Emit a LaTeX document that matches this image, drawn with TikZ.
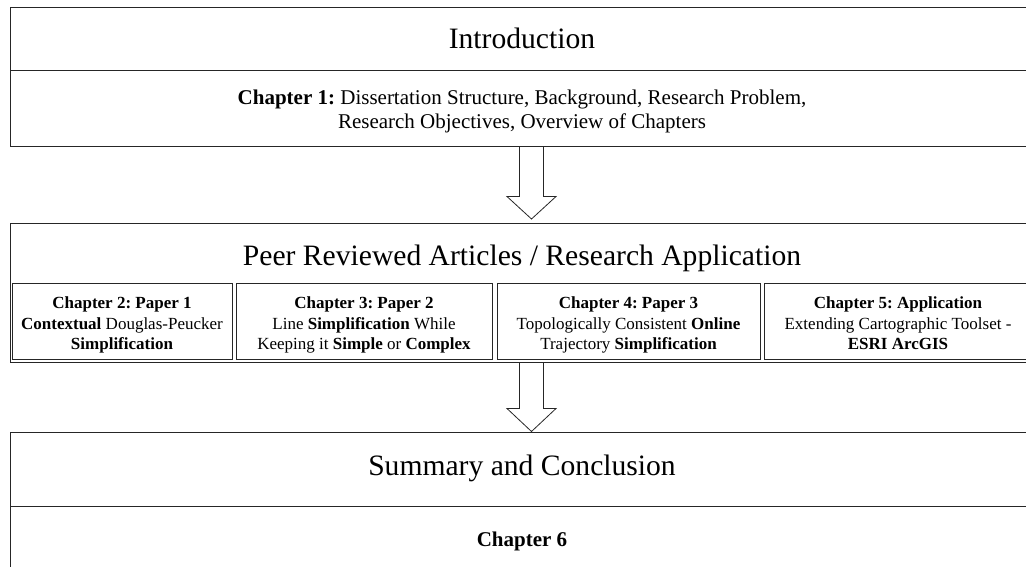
\documentclass[tikz,border=0pt]{standalone}
\usepackage{fontspec}
\setmainfont{Liberation Serif}
\usetikzlibrary{calc}
\frenchspacing
\begin{document}
\begin{tikzpicture}[x=1pt,y=-1pt,
  boxframe/.style={draw=black!85, line width=1pt, rectangle, inner sep=0pt},
  headtext/.style={anchor=base, inner sep=0pt, font=\fontsize{29.6}{34}\selectfont},
  bodytext/.style={anchor=base, inner sep=0pt, align=center, font=\fontsize{21}{24.5}\selectfont},
  subtext/.style={anchor=base, inner sep=0pt, align=center, font=\fontsize{17}{20.5}\selectfont},
  blockarrow/.style={draw=black!85, line width=0.8pt, fill=white, line join=miter}]
\useasboundingbox (0,0) rectangle (1026,566);
\clip (0,0) rectangle (1026,566);
% Introduction
\node[boxframe, minimum width=1024pt, minimum height=62.5pt] (introhead) at (522,38.75) {};
\node[headtext] (introtitle) at (522,48) {Introduction};
\node[boxframe, minimum width=1024pt, minimum height=76pt] (introbody) at (522,108) {};
\node[bodytext] (ch1) at (522,128.5) {\textbf{Chapter 1:} Dissertation Structure, Background, Research Problem,\\Research Objectives, Overview of Chapters};
% Peer reviewed
\node[boxframe, minimum width=1024pt, minimum height=139pt] (peer) at (522,292.5) {};
\node[headtext] (peertitle) at (522,265) {Peer Reviewed Articles / Research Application};
\node[boxframe, minimum width=220pt, minimum height=76.5pt] (sub1) at (122,321.25) {};
\node[boxframe, minimum width=256pt, minimum height=76.5pt] (sub2) at (364,321.25) {};
\node[boxframe, minimum width=263pt, minimum height=76.5pt] (sub3) at (628.5,321.25) {};
\node[boxframe, minimum width=268pt, minimum height=76.5pt] (sub4) at (898,321.25) {};
\node[subtext] (t2) at ($(sub1.north)+(0,67)$) {\textbf{Chapter 2: Paper 1}\\\textbf{Contextual} Douglas-Peucker\\\textbf{Simplification}};
\node[subtext] (t3) at ($(sub2.north)+(0,67)$) {\textbf{Chapter 3: Paper 2}\\Line \textbf{Simplification} While\\Keeping it \textbf{Simple} or \textbf{Complex}};
\node[subtext] (t4) at ($(sub3.north)+(0,67)$) {\textbf{Chapter 4: Paper 3}\\Topologically Consistent \textbf{Online}\\Trajectory \textbf{Simplification}};
\node[subtext] (t5) at ($(sub4.north)+(0,67)$) {\textbf{Chapter 5: Application}\\Extending Cartographic Toolset -\\\textbf{ESRI ArcGIS}};
% Summary
\node[boxframe, minimum width=1024pt, minimum height=74pt] (sumhead) at (522,469) {};
\node[headtext] (sumtitle) at (522,475) {Summary and Conclusion};
\node[boxframe, minimum width=1024pt, minimum height=72pt] (sumbody) at (522,542) {};
\node[bodytext] (ch6) at (522,546) {\textbf{Chapter 6}};
% Arrows
\draw[blockarrow] ($(introbody.south)+(-2.5,0)$) -- ($(introbody.south)+(-2.5,50)$) -- ($(introbody.south)+(-15,50)$) -- ($(peer.north)+(9.5,-3.5)$) -- ($(introbody.south)+(34,50)$) -- ($(introbody.south)+(21.5,50)$) -- ($(introbody.south)+(21.5,0)$) -- cycle;
\draw[blockarrow] ($(peer.south)+(-2.5,0)$) -- ($(peer.south)+(-2.5,46)$) -- ($(peer.south)+(-15,46)$) -- ($(sumhead.north)+(9.5,0)$) -- ($(peer.south)+(34,46)$) -- ($(peer.south)+(21.5,46)$) -- ($(peer.south)+(21.5,0)$) -- cycle;
\end{tikzpicture}
\end{document}
